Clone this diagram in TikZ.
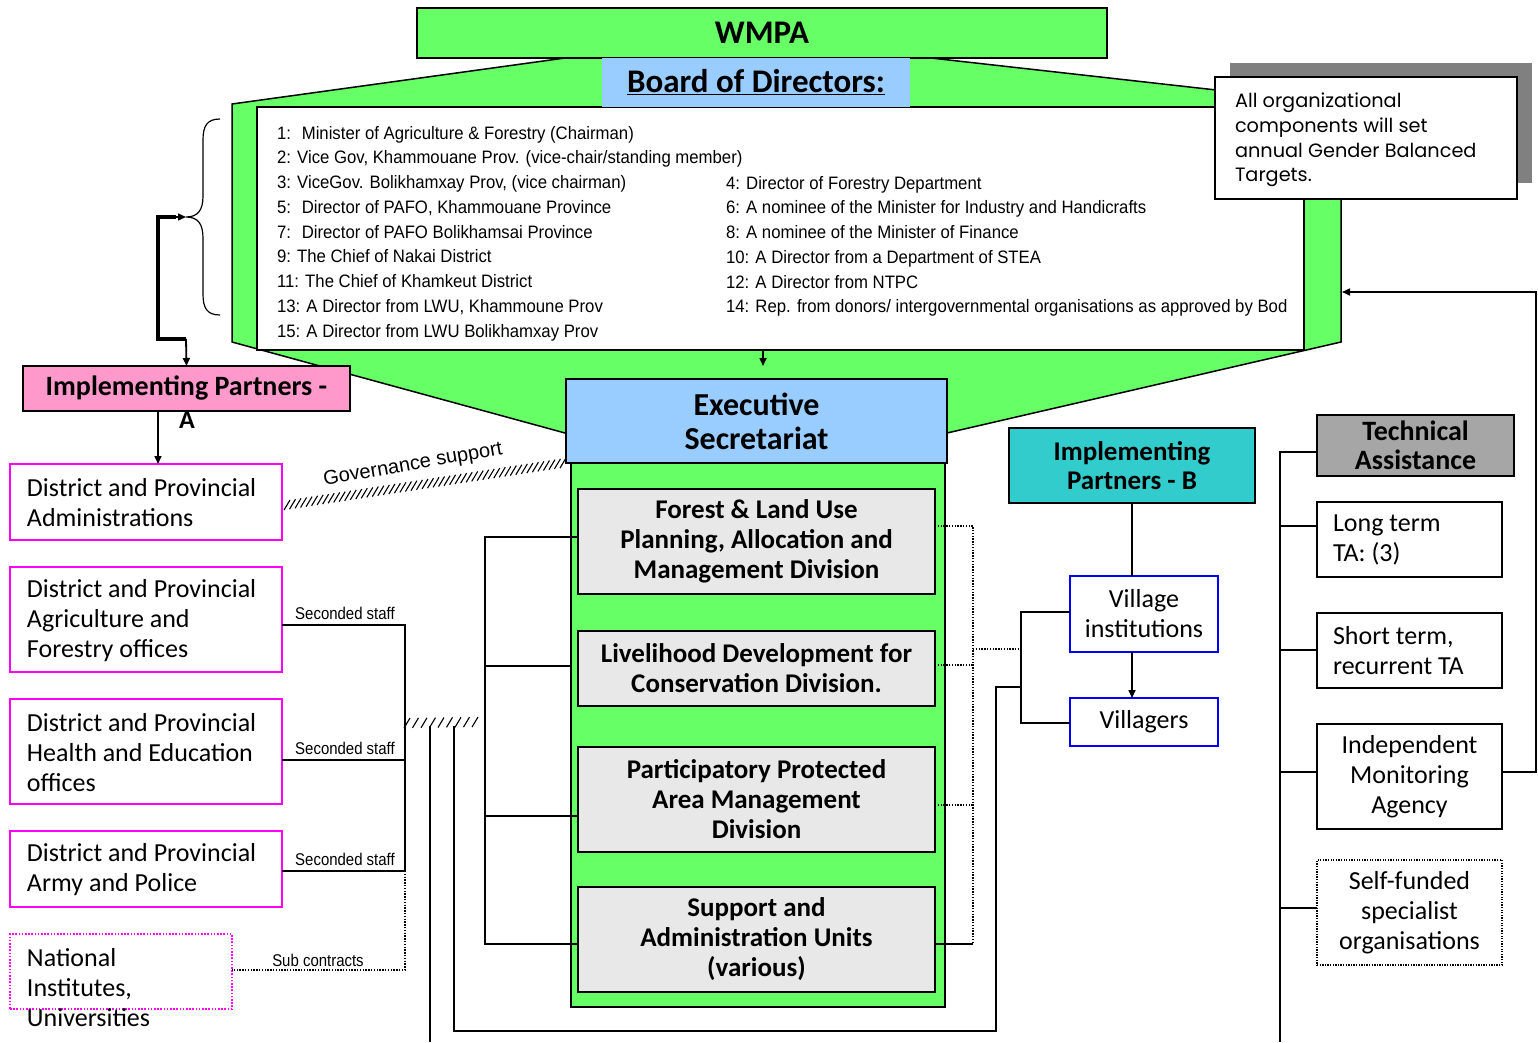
\documentclass[tikz,border=0pt]{standalone}
\usepackage{fontspec}
\setmainfont{Carlito}
\newfontfamily\narrowfont[FakeStretch=0.93]{Liberation Sans}
\newfontfamily\staffnarrow[FakeStretch=0.88]{Liberation Sans}
\newfontfamily\arialfont{Liberation Sans}
\newfontfamily\gothicfont{Poppins}
\usetikzlibrary{arrows.meta,calc}
\definecolor{bgreen}{RGB}{102,255,102}
\definecolor{lblue}{RGB}{153,204,255}
\definecolor{pinkf}{RGB}{255,153,204}
\definecolor{magen}{RGB}{255,0,255}
\definecolor{cyanb}{RGB}{51,204,204}
\definecolor{divgray}{RGB}{232,232,232}
\definecolor{tagray}{RGB}{166,166,166}
\definecolor{shadowgray}{RGB}{128,128,128}
\definecolor{vblue}{RGB}{0,0,255}
\tikzset{
  bx/.style={draw, line width=1.3pt, inner sep=0pt, outer sep=0pt, anchor=north west, align=center},
  magbox/.style={bx, draw=magen, line width=1.8pt, fill=white},
  divbox/.style={bx, fill=divgray, font=\bfseries\fontsize{27}{30}\selectfont},
  txt/.style={inner sep=0pt, outer sep=0pt, align=left, anchor=west},
  boxfont/.style={font=\fontsize{26}{30}\selectfont},
  conn/.style={line width=1.6pt},
  dotline/.style={line width=1.5pt, dash pattern=on 1.4pt off 1.4pt},
  staff/.style={inner sep=0pt, font=\staffnarrow\fontsize{17}{20}\selectfont},
}
\begin{document}
\begin{tikzpicture}[x=1pt,y=-1pt,>={Triangle[length=8pt,width=7pt]}]
\useasboundingbox (0,0) rectangle (1538,1042);

% big green board shape
\draw[fill=bgreen, line width=1.5pt] (232,104) -- (565,58) -- (931,58) -- (1341,104) -- (1341,342) -- (947,433) -- (565,433) -- (232,342) -- cycle;
\node[bx, fill=white, line width=1.8pt, minimum width=1047, minimum height=243] (board) at (257,107) {};
\node[txt, anchor=north west, font=\narrowfont\fontsize{18}{24.75}\selectfont] (bl1) at (277,126)
 {1: \ Minister of Agriculture \& Forestry (Chairman)\\2: Vice Gov, Khammouane Prov. (vice-chair/standing member)\\3: ViceGov. Bolikhamxay Prov, (vice chairman)\\5: \ Director of PAFO, Khammouane Province\\7: \ Director of PAFO Bolikhamsai Province\\9: The Chief of Nakai District\\11: The Chief of Khamkeut District\\13: A Director from LWU, Khammoune Prov\\15: A Director from LWU Bolikhamxay Prov};
\node[txt, anchor=north west, font=\narrowfont\fontsize{18}{24.75}\selectfont] (bl2) at (726,176)
 {4: Director of Forestry Department\\6: A nominee of the Minister for Industry and Handicrafts\\8: A nominee of the Minister of Finance\\10: A Director from a Department of STEA\\12: A Director from NTPC\\14: Rep. from donors/ intergovernmental organisations as approved by Bod};

\node[bx, fill=bgreen, minimum width=690, minimum height=50, font=\bfseries\fontsize{33}{36}\selectfont] (wmpa) at (417,8) {\raisebox{-2pt}{WMPA}};
\node[bx, draw=none, fill=lblue, minimum width=308, minimum height=49, font=\bfseries\fontsize{33}{36}\selectfont] (bod) at (602,58) {\underline{Board of Directors:}};

% callout
\fill[shadowgray] (1230,63) rectangle (1532,183);
\node[bx, fill=white, minimum width=302, minimum height=122] (note) at (1215,77) {};
\node[txt, anchor=north west, font=\gothicfont\fontsize{19.3}{24.7}\selectfont] (notetxt) at (1235,93) {All organizational\\components will set\\annual Gender Balanced\\Targets.};

% brace
\draw[line width=1.2pt] (220,119) .. controls (207,119) and (203,126) .. (203,140) -- (203,196) .. controls (203,210) and (198,217) .. (186,217) .. controls (198,217) and (203,224) .. (203,238) -- (203,294) .. controls (203,308) and (207,315) .. (220,315);
\coordinate (bracetip) at (186,217);
\coordinate (kink) at (186,339);

% Implementing partners A
\node[bx, fill=pinkf, minimum width=327, minimum height=45, font=\bfseries\fontsize{28}{30}\selectfont] (ipa) at (23,366) {Implementing Partners -};
\node[inner sep=0pt, font=\bfseries\fontsize{26}{28}\selectfont] (ipaA) at (187,420) {A};
\draw[line width=3.5pt] (kink) -- (158,339) -- (158,217) -- (176,217);
\draw[line width=1.5pt,->] (172,217) -- (bracetip);
\draw[line width=1.8pt,->] (kink) -- (ipa.north);

% left boxes
\node[magbox, minimum width=272, minimum height=76] (dpa) at (10,464) {};
\node[txt, boxfont] (dpat) at (27,503) {District and Provincial\\Administrations};
\node[magbox, minimum width=272, minimum height=105] (dpaf) at (10,567) {};
\node[txt, boxfont] (dpaft) at (27,621) {District and Provincial\\Agriculture and\\Forestry offices};
\node[magbox, minimum width=272, minimum height=105] (dphe) at (10,699) {};
\node[txt, boxfont] (dphet) at (27,753) {District and Provincial\\Health and Education\\offices};
\node[magbox, minimum width=272, minimum height=76] (dpap) at (10,831) {};
\node[txt, boxfont] (dpapt) at (27,870) {District and Provincial\\Army and Police};
\node[magbox, dash pattern=on 1.6pt off 1.6pt, fill=none, minimum width=222, minimum height=75] (ni) at (10,934) {};
\node[txt, boxfont] (nit) at (27,988) {National\\Institutes,\\Universities};

\draw[conn,->] (ipa.south -| 158,0) -- (dpa.north -| 158,0);

% seconded staff bracket
\draw[conn] (dpaf.east |- 0,625) -- (405,625) -- (405,871) -- (dpap.east |- 0,871);
\draw[conn] (dphe.east |- 0,760) -- (405,760);
\draw[dotline] (405,871) -- (405,970) -- (ni.east |- 0,970);
\node[staff] (s1) at (345,613) {Seconded staff};
\node[staff] (s2) at (345,748) {Seconded staff};
\node[staff] (s3) at (345,859) {Seconded staff};
\node[staff] (s4) at (318,960) {Sub contracts};

% Executive secretariat
\node[bx, fill=bgreen, minimum width=374, minimum height=544] (esg) at (571,463) {};
\node[bx, fill=lblue, minimum width=381, minimum height=84, font=\bfseries\fontsize{32}{34}\selectfont] (es) at (566,379) {Executive\\Secretariat};
\node[divbox, minimum width=357, minimum height=105] (div1) at (578,489) {Forest \& Land Use\\Planning, Allocation and\\Management Division};
\node[divbox, minimum width=357, minimum height=75] (div2) at (578,631) {Livelihood Development for\\Conservation Division.};
\node[divbox, minimum width=357, minimum height=105] (div3) at (578,747) {Participatory Protected\\Area Management\\Division};
\node[divbox, minimum width=357, minimum height=105] (div4) at (578,887) {Support and\\Administration Units\\(various)};
\coordinate (esin) at (763,366);
\draw[conn,->] (board.south -| esin) -- (esin);

% governance support
\coordinate (g1) at (287,505);
\coordinate (g2) at (563,463);
\foreach \i in {0,...,50} { \draw[line width=1.1pt] ($(g1)!{\i/50}!(g2)$) ++(-3,5) -- ++(6,-10); }
\node[inner sep=0pt, rotate=10, font=\arialfont\fontsize{20}{24}\selectfont] (gov) at (413,465) {Governance support};

% second hatch and verticals
\foreach \i in {0,...,8} { \draw[line width=1.1pt] ($(407,723)!{\i/8}!(475,722)$) ++(-3,5) -- ++(6,-10); }
\draw[conn] (430,726) -- (430,1042);
\draw[conn] (454,726) -- (454,1031) -- (996,1031) -- (996,687) -- (1021,687);

% division brackets
\draw[conn] (div1.west |- 0,537) -- (485,537) -- (485,944) -- (div4.west |- 0,944);
\draw[conn] (485,666) -- (esg.west |- 0,666);
\draw[conn] (485,816) -- (div3.west |- 0,816);
\draw[dotline] (div1.east |- 0,526) -- (973,526) -- (973,944);
\draw[dotline] (div2.east |- 0,665) -- (973,665);
\draw[dotline] (div3.east |- 0,805) -- (973,805);
\draw[conn] (div4.east |- 0,944) -- (973,944);
\draw[dotline] (973,649) -- (1021,649);

% implementing partners B
\node[bx, fill=cyanb, minimum width=246, minimum height=75, font=\bfseries\fontsize{27}{29}\selectfont] (ipb) at (1009,428) {Implementing\\Partners - B};
\node[bx, draw=vblue, line width=1.6pt, fill=white, minimum width=148, minimum height=76, boxfont] (vi) at (1070,576) {Village\\institutions};
\node[bx, draw=vblue, line width=1.6pt, fill=white, minimum width=148, minimum height=48, boxfont] (vil) at (1070,698) {Villagers};
\draw[conn] (ipb.south -| 1132,0) -- (vi.north -| 1132,0);
\draw[conn,->] (vi.south -| 1132,0) -- (vil.north -| 1132,0);
\draw[conn] (vi.west |- 0,612) -- (1021,612) -- (1021,723) -- (vil.west |- 0,723);

% technical assistance
\node[bx, fill=tagray, minimum width=197, minimum height=61, font=\bfseries\fontsize{28}{29}\selectfont] (ta) at (1317,415) {Technical\\Assistance};
\node[bx, fill=white, minimum width=185, minimum height=75] (lt) at (1317,502) {};
\node[txt, boxfont] (ltt) at (1333,540) {Long term\\TA: (3)};
\node[bx, fill=white, minimum width=185, minimum height=75] (st) at (1317,613) {};
\node[txt, boxfont] (stt) at (1333,651) {Short term,\\recurrent TA};
\node[bx, fill=white, minimum width=185, minimum height=105, boxfont] (ima) at (1317,724) {Independent\\Monitoring\\Agency};
\node[bx, dash pattern=on 1.3pt off 1.3pt, fill=white, minimum width=185, minimum height=105, boxfont] (sf) at (1317,860) {Self-funded\\specialist\\organisations};
\draw[conn] (ta.west |- 0,452) -- (1280,452) -- (1280,1042);
\draw[conn] (1280,526) -- (lt.west |- 0,526);
\draw[conn] (1280,650) -- (st.west |- 0,650);
\draw[conn] (1280,772) -- (ima.west |- 0,772);
\draw[conn] (1280,908) -- (sf.west |- 0,908);
\coordinate (boardR) at (1342,292);
\draw[conn,->] (ima.east |- 0,772) -- (1536,772) -- (1536,292) -- (boardR);
\end{tikzpicture}
\end{document}
